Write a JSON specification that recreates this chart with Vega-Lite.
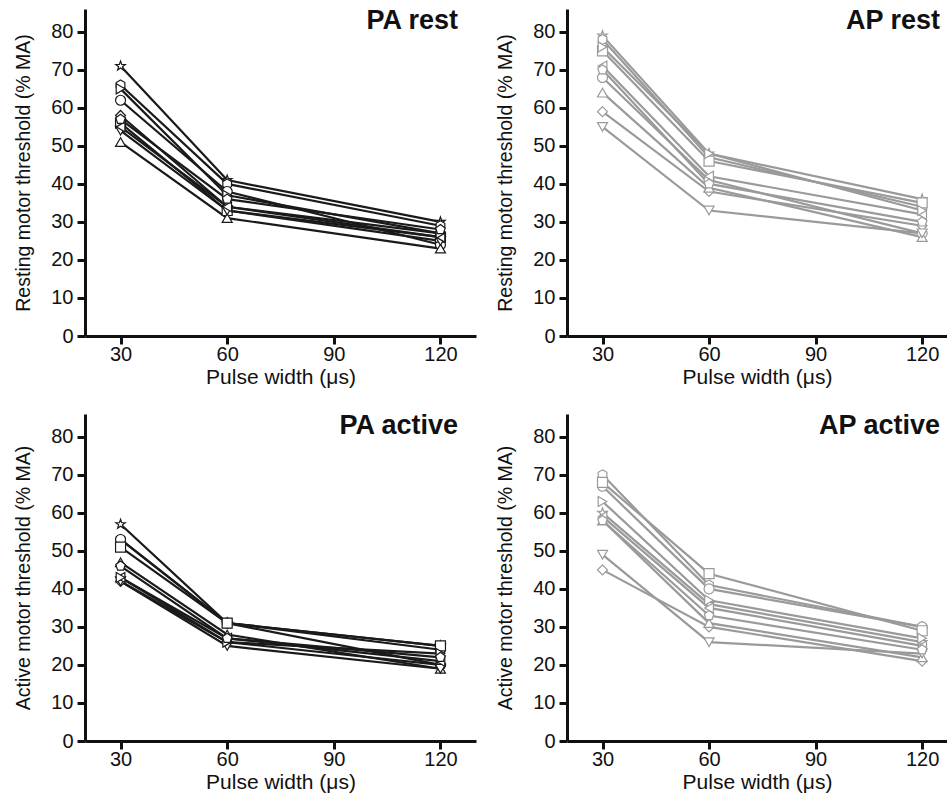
{
  "$schema": "https://vega.github.io/schema/vega-lite/v6.json",
  "padding": {"left": 13, "top": 7, "right": 0, "bottom": 2},
  "background": "white",
  "config": {
    "view": {"stroke": null},
    "axis": {"domainColor": "#111", "domainWidth": 3, "tickColor": "#111", "tickWidth": 3, "tickSize": 8, "labelFont": "Liberation Sans", "labelFontSize": 20, "labelColor": "#111", "titleFont": "Liberation Sans", "titleFontWeight": "normal", "titleColor": "#111", "grid": false},
    "axisX": {"labelPadding": 0, "titlePadding": 2, "titleFontSize": 21},
    "axisY": {"labelPadding": 4, "titlePadding": 17, "titleFontSize": 19.5},
    "title": {"font": "Liberation Sans", "fontSize": 27, "fontWeight": "bold", "color": "#111", "anchor": "end", "orient": "top", "offset": -26}
  },
  "datasets": {
    "d": [
      {"panel":"PA rest","subject":"S1","pw":30,"thr":71},{"panel":"PA rest","subject":"S1","pw":60,"thr":41},{"panel":"PA rest","subject":"S1","pw":120,"thr":30},
      {"panel":"PA rest","subject":"S2","pw":30,"thr":66},{"panel":"PA rest","subject":"S2","pw":60,"thr":40},{"panel":"PA rest","subject":"S2","pw":120,"thr":29},
      {"panel":"PA rest","subject":"S3","pw":30,"thr":62},{"panel":"PA rest","subject":"S3","pw":60,"thr":38},{"panel":"PA rest","subject":"S3","pw":120,"thr":24},
      {"panel":"PA rest","subject":"S4","pw":30,"thr":56},{"panel":"PA rest","subject":"S4","pw":60,"thr":33},{"panel":"PA rest","subject":"S4","pw":120,"thr":26},
      {"panel":"PA rest","subject":"S5","pw":30,"thr":58},{"panel":"PA rest","subject":"S5","pw":60,"thr":34},{"panel":"PA rest","subject":"S5","pw":120,"thr":27},
      {"panel":"PA rest","subject":"S6","pw":30,"thr":51},{"panel":"PA rest","subject":"S6","pw":60,"thr":31},{"panel":"PA rest","subject":"S6","pw":120,"thr":23},
      {"panel":"PA rest","subject":"S7","pw":30,"thr":54},{"panel":"PA rest","subject":"S7","pw":60,"thr":33},{"panel":"PA rest","subject":"S7","pw":120,"thr":25},
      {"panel":"PA rest","subject":"S8","pw":30,"thr":55},{"panel":"PA rest","subject":"S8","pw":60,"thr":34},{"panel":"PA rest","subject":"S8","pw":120,"thr":26},
      {"panel":"PA rest","subject":"S9","pw":30,"thr":65},{"panel":"PA rest","subject":"S9","pw":60,"thr":37},{"panel":"PA rest","subject":"S9","pw":120,"thr":27},
      {"panel":"PA rest","subject":"S10","pw":30,"thr":57},{"panel":"PA rest","subject":"S10","pw":60,"thr":36},{"panel":"PA rest","subject":"S10","pw":120,"thr":28},

      {"panel":"AP rest","subject":"S1","pw":30,"thr":79},{"panel":"AP rest","subject":"S1","pw":60,"thr":48},{"panel":"AP rest","subject":"S1","pw":120,"thr":36},
      {"panel":"AP rest","subject":"S2","pw":30,"thr":78},{"panel":"AP rest","subject":"S2","pw":60,"thr":47},{"panel":"AP rest","subject":"S2","pw":120,"thr":34},
      {"panel":"AP rest","subject":"S3","pw":30,"thr":68},{"panel":"AP rest","subject":"S3","pw":60,"thr":41},{"panel":"AP rest","subject":"S3","pw":120,"thr":27},
      {"panel":"AP rest","subject":"S4","pw":30,"thr":75},{"panel":"AP rest","subject":"S4","pw":60,"thr":46},{"panel":"AP rest","subject":"S4","pw":120,"thr":35},
      {"panel":"AP rest","subject":"S5","pw":30,"thr":59},{"panel":"AP rest","subject":"S5","pw":60,"thr":38},{"panel":"AP rest","subject":"S5","pw":120,"thr":29},
      {"panel":"AP rest","subject":"S6","pw":30,"thr":64},{"panel":"AP rest","subject":"S6","pw":60,"thr":39},{"panel":"AP rest","subject":"S6","pw":120,"thr":26},
      {"panel":"AP rest","subject":"S7","pw":30,"thr":55},{"panel":"AP rest","subject":"S7","pw":60,"thr":33},{"panel":"AP rest","subject":"S7","pw":120,"thr":27},
      {"panel":"AP rest","subject":"S8","pw":30,"thr":71},{"panel":"AP rest","subject":"S8","pw":60,"thr":42},{"panel":"AP rest","subject":"S8","pw":120,"thr":32},
      {"panel":"AP rest","subject":"S9","pw":30,"thr":76},{"panel":"AP rest","subject":"S9","pw":60,"thr":48},{"panel":"AP rest","subject":"S9","pw":120,"thr":33},
      {"panel":"AP rest","subject":"S10","pw":30,"thr":70},{"panel":"AP rest","subject":"S10","pw":60,"thr":40},{"panel":"AP rest","subject":"S10","pw":120,"thr":30},

      {"panel":"PA active","subject":"S1","pw":30,"thr":57},{"panel":"PA active","subject":"S1","pw":60,"thr":31},{"panel":"PA active","subject":"S1","pw":120,"thr":25},
      {"panel":"PA active","subject":"S2","pw":30,"thr":53},{"panel":"PA active","subject":"S2","pw":60,"thr":31},{"panel":"PA active","subject":"S2","pw":120,"thr":24},
      {"panel":"PA active","subject":"S3","pw":30,"thr":53},{"panel":"PA active","subject":"S3","pw":60,"thr":31},{"panel":"PA active","subject":"S3","pw":120,"thr":20},
      {"panel":"PA active","subject":"S4","pw":30,"thr":51},{"panel":"PA active","subject":"S4","pw":60,"thr":31},{"panel":"PA active","subject":"S4","pw":120,"thr":25},
      {"panel":"PA active","subject":"S5","pw":30,"thr":42},{"panel":"PA active","subject":"S5","pw":60,"thr":26},{"panel":"PA active","subject":"S5","pw":120,"thr":20},
      {"panel":"PA active","subject":"S6","pw":30,"thr":47},{"panel":"PA active","subject":"S6","pw":60,"thr":28},{"panel":"PA active","subject":"S6","pw":120,"thr":19},
      {"panel":"PA active","subject":"S7","pw":30,"thr":42},{"panel":"PA active","subject":"S7","pw":60,"thr":25},{"panel":"PA active","subject":"S7","pw":120,"thr":19},
      {"panel":"PA active","subject":"S8","pw":30,"thr":43},{"panel":"PA active","subject":"S8","pw":60,"thr":27},{"panel":"PA active","subject":"S8","pw":120,"thr":21},
      {"panel":"PA active","subject":"S9","pw":30,"thr":43},{"panel":"PA active","subject":"S9","pw":60,"thr":26},{"panel":"PA active","subject":"S9","pw":120,"thr":23},
      {"panel":"PA active","subject":"S10","pw":30,"thr":46},{"panel":"PA active","subject":"S10","pw":60,"thr":27},{"panel":"PA active","subject":"S10","pw":120,"thr":22},

      {"panel":"AP active","subject":"S1","pw":30,"thr":60},{"panel":"AP active","subject":"S1","pw":60,"thr":36},{"panel":"AP active","subject":"S1","pw":120,"thr":26},
      {"panel":"AP active","subject":"S2","pw":30,"thr":70},{"panel":"AP active","subject":"S2","pw":60,"thr":41},{"panel":"AP active","subject":"S2","pw":120,"thr":30},
      {"panel":"AP active","subject":"S3","pw":30,"thr":67},{"panel":"AP active","subject":"S3","pw":60,"thr":40},{"panel":"AP active","subject":"S3","pw":120,"thr":30},
      {"panel":"AP active","subject":"S4","pw":30,"thr":68},{"panel":"AP active","subject":"S4","pw":60,"thr":44},{"panel":"AP active","subject":"S4","pw":120,"thr":29},
      {"panel":"AP active","subject":"S5","pw":30,"thr":45},{"panel":"AP active","subject":"S5","pw":60,"thr":30},{"panel":"AP active","subject":"S5","pw":120,"thr":21},
      {"panel":"AP active","subject":"S6","pw":30,"thr":58},{"panel":"AP active","subject":"S6","pw":60,"thr":31},{"panel":"AP active","subject":"S6","pw":120,"thr":22},
      {"panel":"AP active","subject":"S7","pw":30,"thr":49},{"panel":"AP active","subject":"S7","pw":60,"thr":26},{"panel":"AP active","subject":"S7","pw":120,"thr":23},
      {"panel":"AP active","subject":"S8","pw":30,"thr":59},{"panel":"AP active","subject":"S8","pw":60,"thr":35},{"panel":"AP active","subject":"S8","pw":120,"thr":25},
      {"panel":"AP active","subject":"S9","pw":30,"thr":63},{"panel":"AP active","subject":"S9","pw":60,"thr":37},{"panel":"AP active","subject":"S9","pw":120,"thr":27},
      {"panel":"AP active","subject":"S10","pw":30,"thr":58},{"panel":"AP active","subject":"S10","pw":60,"thr":33},{"panel":"AP active","subject":"S10","pw":120,"thr":24}
    ]
  },
  "columns": 2,
  "spacing": {"row": 78, "column": 91},
  "bounds": "flush",
  "concat": [
    {
      "width": 391, "height": 327,
      "title": {"text": "PA rest", "dx": -18},
      "data": {"name": "d"},
      "transform": [{"filter": "datum.panel === 'PA rest'"}],
      "encoding": {
        "x": {"field": "pw", "type": "quantitative", "scale": {"domain": [20, 130], "nice": false, "zero": false}, "axis": {"values": [30, 60, 90, 120], "title": "Pulse width (μs)"}},
        "y": {"field": "thr", "type": "quantitative", "scale": {"domain": [0, 86], "nice": false}, "axis": {"values": [0, 10, 20, 30, 40, 50, 60, 70, 80], "title": "Resting motor threshold (% MA)"}}
      },
      "layer": [
        {"mark": {"type": "line", "color": "#1a1a1a", "strokeWidth": 2.2}, "encoding": {"detail": {"field": "subject"}}},
        {"mark": {"type": "point", "filled": true, "fill": "white", "stroke": "#1a1a1a", "strokeWidth": 1.2, "size": 100, "opacity": 1},
         "encoding": {"shape": {"field": "subject", "legend": null, "scale": {"domain": ["S1","S2","S3","S4","S5","S6","S7","S8","S9","S10"], "range": ["M0,-1L0.235,-0.324L0.951,-0.309L0.38,0.124L0.588,0.809L0,0.4L-0.588,0.809L-0.38,0.124L-0.951,-0.309L-0.235,-0.324Z", "M0,-1L0.866,-0.5L0.866,0.5L0,1L-0.866,0.5L-0.866,-0.5Z", "circle", "square", "diamond", "triangle-up", "triangle-down", "triangle-left", "triangle-right", "M0,-1L0.951,-0.309L0.588,0.809L-0.588,0.809L-0.951,-0.309Z"]}}}}
      ]
    },
    {
      "width": 380, "height": 327,
      "title": {"text": "AP rest", "dx": -7},
      "data": {"name": "d"},
      "transform": [{"filter": "datum.panel === 'AP rest'"}],
      "encoding": {
        "x": {"field": "pw", "type": "quantitative", "scale": {"domain": [20, 127], "nice": false, "zero": false}, "axis": {"values": [30, 60, 90, 120], "title": "Pulse width (μs)"}},
        "y": {"field": "thr", "type": "quantitative", "scale": {"domain": [0, 86], "nice": false}, "axis": {"values": [0, 10, 20, 30, 40, 50, 60, 70, 80], "title": "Resting motor threshold (% MA)"}}
      },
      "layer": [
        {"mark": {"type": "line", "color": "#9a9a9a", "strokeWidth": 2.2}, "encoding": {"detail": {"field": "subject"}}},
        {"mark": {"type": "point", "filled": true, "fill": "white", "stroke": "#9a9a9a", "strokeWidth": 1.2, "size": 100, "opacity": 1},
         "encoding": {"shape": {"field": "subject", "legend": null, "scale": {"domain": ["S1","S2","S3","S4","S5","S6","S7","S8","S9","S10"], "range": ["M0,-1L0.235,-0.324L0.951,-0.309L0.38,0.124L0.588,0.809L0,0.4L-0.588,0.809L-0.38,0.124L-0.951,-0.309L-0.235,-0.324Z", "M0,-1L0.866,-0.5L0.866,0.5L0,1L-0.866,0.5L-0.866,-0.5Z", "circle", "square", "diamond", "triangle-up", "triangle-down", "triangle-left", "triangle-right", "M0,-1L0.951,-0.309L0.588,0.809L-0.588,0.809L-0.951,-0.309Z"]}}}}
      ]
    },
    {
      "width": 391, "height": 327,
      "title": {"text": "PA active", "dx": -18},
      "data": {"name": "d"},
      "transform": [{"filter": "datum.panel === 'PA active'"}],
      "encoding": {
        "x": {"field": "pw", "type": "quantitative", "scale": {"domain": [20, 130], "nice": false, "zero": false}, "axis": {"values": [30, 60, 90, 120], "title": "Pulse width (μs)"}},
        "y": {"field": "thr", "type": "quantitative", "scale": {"domain": [0, 86], "nice": false}, "axis": {"values": [0, 10, 20, 30, 40, 50, 60, 70, 80], "title": "Active motor threshold (% MA)"}}
      },
      "layer": [
        {"mark": {"type": "line", "color": "#1a1a1a", "strokeWidth": 2.2}, "encoding": {"detail": {"field": "subject"}}},
        {"mark": {"type": "point", "filled": true, "fill": "white", "stroke": "#1a1a1a", "strokeWidth": 1.2, "size": 100, "opacity": 1},
         "encoding": {"shape": {"field": "subject", "legend": null, "scale": {"domain": ["S1","S2","S3","S4","S5","S6","S7","S8","S9","S10"], "range": ["M0,-1L0.235,-0.324L0.951,-0.309L0.38,0.124L0.588,0.809L0,0.4L-0.588,0.809L-0.38,0.124L-0.951,-0.309L-0.235,-0.324Z", "M0,-1L0.866,-0.5L0.866,0.5L0,1L-0.866,0.5L-0.866,-0.5Z", "circle", "square", "diamond", "triangle-up", "triangle-down", "triangle-left", "triangle-right", "M0,-1L0.951,-0.309L0.588,0.809L-0.588,0.809L-0.951,-0.309Z"]}}}}
      ]
    },
    {
      "width": 380, "height": 327,
      "title": {"text": "AP active", "dx": -7},
      "data": {"name": "d"},
      "transform": [{"filter": "datum.panel === 'AP active'"}],
      "encoding": {
        "x": {"field": "pw", "type": "quantitative", "scale": {"domain": [20, 127], "nice": false, "zero": false}, "axis": {"values": [30, 60, 90, 120], "title": "Pulse width (μs)"}},
        "y": {"field": "thr", "type": "quantitative", "scale": {"domain": [0, 86], "nice": false}, "axis": {"values": [0, 10, 20, 30, 40, 50, 60, 70, 80], "title": "Active motor threshold (% MA)"}}
      },
      "layer": [
        {"mark": {"type": "line", "color": "#9a9a9a", "strokeWidth": 2.2}, "encoding": {"detail": {"field": "subject"}}},
        {"mark": {"type": "point", "filled": true, "fill": "white", "stroke": "#9a9a9a", "strokeWidth": 1.2, "size": 100, "opacity": 1},
         "encoding": {"shape": {"field": "subject", "legend": null, "scale": {"domain": ["S1","S2","S3","S4","S5","S6","S7","S8","S9","S10"], "range": ["M0,-1L0.235,-0.324L0.951,-0.309L0.38,0.124L0.588,0.809L0,0.4L-0.588,0.809L-0.38,0.124L-0.951,-0.309L-0.235,-0.324Z", "M0,-1L0.866,-0.5L0.866,0.5L0,1L-0.866,0.5L-0.866,-0.5Z", "circle", "square", "diamond", "triangle-up", "triangle-down", "triangle-left", "triangle-right", "M0,-1L0.951,-0.309L0.588,0.809L-0.588,0.809L-0.951,-0.309Z"]}}}}
      ]
    }
  ]
}
